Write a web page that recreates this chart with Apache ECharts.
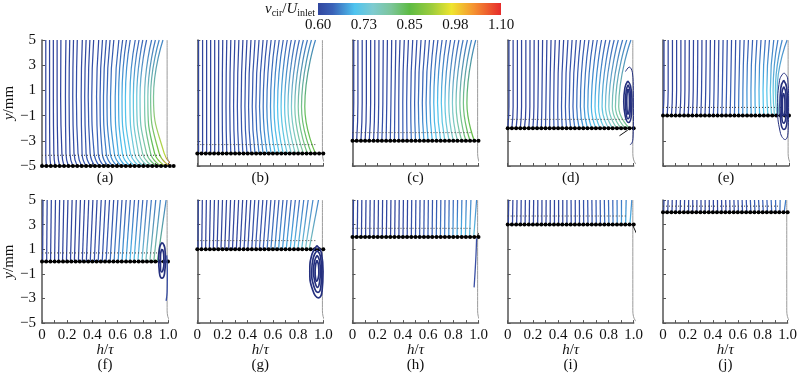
<!DOCTYPE html>
<html><head><meta charset="utf-8">
<script src="https://cdn.jsdelivr.net/npm/echarts@6/dist/echarts.min.js"></script>
<style>html,body{margin:0;padding:0;background:#fff}#c{width:800px;height:374px}</style>
</head><body><div id="c"></div>
<script>
// ================= DATA =================
const panelLabels = ['(a)','(b)','(c)','(d)','(e)','(f)','(g)','(h)','(i)','(j)'];
const dotLevels = [-5,-4,-3,-2,-1,0,1,2,3,4];
const faintLevels = [-4.15,-3.3,-2.35,-1.3,-0.35,0.7,1.7,2.7,3.7,4.5];
const xTickLabels = ['0','0.2','0.4','0.6','0.8','1.0'];
const yTickLabels = ['\u22125','\u22123','\u22121','1','3','5'];
const cbTickLabels = ['0.60','0.73','0.85','0.98','1.10'];
const cbRange = [0.6, 1.1];

const dotX = [0,0.033,0.067,0.1,0.133,0.167,0.2,0.233,0.267,0.3,0.333,0.367,0.4,0.433,0.467,0.5,0.533,0.567,0.6,0.633,0.667,0.7,0.733,0.767,0.8,0.833,0.867,0.9,0.933,0.967,1.0];
const dotXa = [0,0.035,0.07,0.105,0.14,0.175,0.21,0.245,0.28,0.315,0.35,0.385,0.42,0.455,0.49,0.525,0.56,0.595,0.63,0.665,0.7,0.735,0.77,0.805,0.84,0.875,0.91,0.945,0.98,1.015,1.045];

// velocity at top of each streamline (y = 5)
const vTop = [0.6,0.6,0.6,0.6,0.6,0.6,0.6,0.6,0.6,0.6,0.6,0.6,0.6,0.6,0.61,0.61,0.61,0.61,0.62,0.62,0.62,0.63,0.63,0.63,0.64,0.64,0.65,0.65,0.66,0.66];

// (a) stations y = 5, 0.5, -4, -5
const a_y = [5, 0.5, -4, -5];
const a_x5 = [0.03,0.06,0.09,0.12,0.15,0.19,0.22,0.25,0.28,0.32,0.35,0.38,0.41,0.45,0.48,0.51,0.54,0.57,0.61,0.64,0.67,0.70,0.74,0.77,0.80,0.83,0.87,0.90,0.93,0.96];
const a_xm = [0.03,0.06,0.09,0.12,0.148,0.186,0.215,0.244,0.273,0.311,0.339,0.367,0.395,0.433,0.461,0.488,0.516,0.544,0.581,0.608,0.635,0.662,0.698,0.725,0.752,0.778,0.814,0.84,0.862,0.885];
const a_xl = [0.03,0.062,0.094,0.126,0.158,0.19,0.222,0.254,0.286,0.318,0.35,0.382,0.414,0.446,0.478,0.51,0.542,0.574,0.606,0.638,0.67,0.702,0.734,0.766,0.798,0.83,0.862,0.894,0.93,0.97];
const a_xb = dotXa.slice(1);
const a_vm = [0.6,0.6,0.6,0.6,0.6,0.61,0.61,0.61,0.62,0.62,0.62,0.63,0.63,0.64,0.64,0.65,0.65,0.66,0.67,0.68,0.69,0.70,0.71,0.72,0.73,0.74,0.76,0.77,0.79,0.80];
const a_vl = [0.6,0.6,0.6,0.6,0.6,0.61,0.61,0.61,0.62,0.62,0.63,0.63,0.64,0.64,0.65,0.66,0.67,0.68,0.69,0.70,0.71,0.72,0.74,0.76,0.78,0.80,0.82,0.85,0.88,0.93];
const a_vb = [0.6,0.6,0.6,0.6,0.61,0.61,0.61,0.62,0.62,0.62,0.63,0.63,0.64,0.64,0.65,0.65,0.66,0.67,0.68,0.69,0.70,0.72,0.74,0.76,0.79,0.83,0.88,0.94,1.02,1.10];

// (b) stations y = 5, -0.3, -4
const b_y = [5, -0.3, -4];
const b_x5 = [0.01,0.042,0.074,0.106,0.138,0.17,0.202,0.234,0.266,0.298,0.33,0.362,0.394,0.426,0.458,0.49,0.522,0.554,0.586,0.618,0.65,0.682,0.714,0.746,0.778,0.81,0.842,0.874,0.906,0.938];
const b_xm = [0.01,0.042,0.074,0.106,0.138,0.168,0.198,0.228,0.258,0.288,0.318,0.348,0.378,0.407,0.436,0.465,0.494,0.523,0.552,0.581,0.609,0.637,0.665,0.693,0.72,0.747,0.774,0.801,0.827,0.853];
const b_xb = b_x5;
const b_vm = [0.6,0.6,0.6,0.6,0.6,0.6,0.61,0.61,0.61,0.62,0.62,0.62,0.63,0.63,0.64,0.64,0.65,0.65,0.66,0.67,0.69,0.70,0.71,0.72,0.74,0.75,0.77,0.79,0.81,0.83];
const b_vb = [0.6,0.6,0.6,0.6,0.61,0.61,0.61,0.62,0.62,0.62,0.63,0.63,0.64,0.64,0.65,0.66,0.67,0.68,0.69,0.70,0.71,0.72,0.73,0.75,0.76,0.78,0.80,0.82,0.84,0.86];

// (c) stations y = 5, 0, -3
const c_y = [5, 0, -3];
const c_x5 = [0.01,0.043,0.077,0.11,0.144,0.177,0.21,0.244,0.277,0.311,0.344,0.377,0.411,0.444,0.478,0.511,0.544,0.578,0.611,0.645,0.678,0.711,0.745,0.778,0.812,0.845,0.878,0.912,0.945,0.978];
const c_xm = [0.01,0.043,0.077,0.11,0.144,0.176,0.208,0.241,0.272,0.305,0.336,0.367,0.399,0.43,0.462,0.493,0.523,0.554,0.584,0.615,0.645,0.675,0.705,0.734,0.764,0.793,0.822,0.852,0.88,0.908];
const c_xb = dotX.slice(0, 30);
const c_vm = b_vm;
const c_vb = b_vb;

// (d) stations y = 5, -0.3, -2
const d_y = [5, -0.3, -2];
const d_x5 = c_x5;
const d_xm = [0.01,0.043,0.077,0.11,0.144,0.176,0.208,0.24,0.271,0.303,0.334,0.365,0.397,0.427,0.458,0.488,0.518,0.548,0.577,0.607,0.636,0.664,0.693,0.721,0.749,0.776,0.803,0.83,0.855,0.881];
const d_xb = dotX.slice(0, 30);
const d_vm = [0.6,0.6,0.6,0.6,0.6,0.6,0.6,0.61,0.61,0.61,0.62,0.62,0.62,0.63,0.63,0.64,0.64,0.65,0.66,0.67,0.68,0.69,0.70,0.71,0.72,0.74,0.75,0.77,0.78,0.79];
const d_vb = [0.6,0.6,0.6,0.6,0.6,0.61,0.61,0.61,0.62,0.62,0.62,0.63,0.63,0.64,0.64,0.65,0.66,0.67,0.68,0.69,0.70,0.71,0.72,0.73,0.75,0.76,0.78,0.79,0.80,0.81];

// (e) stations y = 5, 1, -1
const e_y = [5, 1, -1];
const e_x5 = [0.008,0.041,0.075,0.108,0.142,0.175,0.209,0.242,0.276,0.309,0.343,0.376,0.41,0.443,0.477,0.51,0.544,0.577,0.611,0.644,0.678,0.711,0.745,0.778,0.812,0.845,0.879,0.912,0.946,0.985];
const e_xm = [0.008,0.041,0.075,0.108,0.142,0.174,0.207,0.24,0.273,0.306,0.339,0.372,0.405,0.438,0.471,0.504,0.537,0.57,0.602,0.634,0.666,0.698,0.73,0.762,0.794,0.824,0.852,0.874,0.892,0.906];
const e_xb = [0,0.033,0.067,0.1,0.133,0.167,0.2,0.233,0.267,0.3,0.333,0.367,0.4,0.433,0.467,0.5,0.533,0.567,0.6,0.633,0.667,0.7,0.733,0.767,0.8,0.833,0.862,0.885,0.905,0.922];
const e_vm = [0.6,0.6,0.6,0.6,0.6,0.6,0.6,0.6,0.61,0.61,0.61,0.62,0.62,0.62,0.63,0.63,0.64,0.64,0.65,0.66,0.67,0.67,0.68,0.69,0.70,0.71,0.72,0.72,0.73,0.73];
const e_vb = [0.6,0.6,0.6,0.6,0.6,0.6,0.6,0.6,0.61,0.61,0.61,0.62,0.62,0.63,0.63,0.64,0.64,0.65,0.66,0.67,0.68,0.68,0.69,0.70,0.71,0.72,0.73,0.74,0.75,0.76];

// bottom row: stations y = 5 and dot level
const r2_x5 = [0.008,0.041,0.074,0.107,0.14,0.173,0.206,0.239,0.272,0.305,0.338,0.371,0.404,0.437,0.47,0.503,0.536,0.569,0.602,0.635,0.668,0.701,0.734,0.767,0.8,0.834,0.868,0.903,0.94,0.985];
const f_xb = [0.005,0.037,0.068,0.1,0.131,0.163,0.194,0.226,0.257,0.289,0.32,0.352,0.383,0.415,0.446,0.478,0.509,0.541,0.572,0.604,0.635,0.667,0.698,0.73,0.761,0.793,0.824,0.856,0.887,0.915];
const g_x5 = [0.008,0.04,0.072,0.104,0.136,0.168,0.2,0.232,0.264,0.296,0.328,0.36,0.392,0.424,0.456,0.488,0.52,0.552,0.584,0.616,0.648,0.68,0.712,0.745,0.778,0.811,0.845,0.88,0.918,0.962];
const g_xb = [0.005,0.035,0.066,0.096,0.127,0.157,0.188,0.218,0.249,0.279,0.31,0.34,0.371,0.401,0.432,0.462,0.493,0.523,0.554,0.584,0.615,0.645,0.676,0.706,0.737,0.767,0.798,0.828,0.858,0.888];
const h_xb = [0.005,0.038,0.071,0.104,0.137,0.17,0.203,0.236,0.269,0.302,0.335,0.368,0.401,0.434,0.467,0.5,0.533,0.566,0.599,0.632,0.665,0.698,0.731,0.764,0.797,0.83,0.863,0.896,0.929,0.962];
const i_xb = [0.005,0.038,0.071,0.105,0.138,0.171,0.204,0.238,0.271,0.304,0.337,0.371,0.404,0.437,0.47,0.504,0.537,0.57,0.603,0.637,0.67,0.703,0.736,0.77,0.803,0.836,0.869,0.903,0.936,0.97];
const j_xb = [0.005,0.038,0.072,0.105,0.138,0.172,0.205,0.238,0.272,0.305,0.338,0.372,0.405,0.438,0.472,0.505,0.538,0.572,0.605,0.638,0.672,0.705,0.738,0.772,0.805,0.838,0.872,0.905,0.938,0.972];
const f_vb = [0.6,0.6,0.6,0.6,0.6,0.6,0.6,0.6,0.6,0.6,0.61,0.61,0.62,0.62,0.63,0.63,0.64,0.65,0.66,0.67,0.68,0.69,0.70,0.71,0.72,0.74,0.76,0.78,0.80,0.82];
const g_vb = [0.6,0.6,0.6,0.6,0.6,0.6,0.6,0.6,0.6,0.6,0.6,0.61,0.61,0.62,0.62,0.63,0.63,0.64,0.65,0.66,0.67,0.68,0.68,0.69,0.70,0.71,0.72,0.73,0.75,0.77];
const h_vb = [0.6,0.6,0.6,0.6,0.6,0.6,0.6,0.6,0.6,0.6,0.6,0.6,0.61,0.61,0.62,0.62,0.63,0.63,0.64,0.64,0.65,0.66,0.66,0.67,0.68,0.69,0.70,0.71,0.72,0.72];
const i_vb = [0.6,0.6,0.6,0.6,0.6,0.6,0.6,0.6,0.6,0.6,0.6,0.6,0.6,0.6,0.61,0.61,0.61,0.62,0.62,0.63,0.63,0.64,0.64,0.65,0.66,0.66,0.67,0.68,0.69,0.70];
const j_vb = [0.6,0.6,0.6,0.6,0.6,0.6,0.6,0.6,0.6,0.6,0.6,0.6,0.6,0.6,0.6,0.6,0.61,0.61,0.61,0.61,0.62,0.62,0.62,0.62,0.63,0.63,0.63,0.64,0.64,0.65];

// wall contour (right boundary with trailing fillet)
const wallLine = [[0.993,5],[0.993,-4.0],[0.998,-4.45],[1.012,-4.78],[1.032,-4.95],[1.055,-5]];

// recirculation loops and extra streamlines
const vortexD = [
  [[0.953,1.75],[0.975,1.35],[0.986,0.3],[0.982,-0.9],[0.958,-1.55],[0.932,-1.0],[0.921,0.1],[0.93,1.2],[0.953,1.75]],
  [[0.955,1.45],[0.972,0.9],[0.976,0.0],[0.97,-0.9],[0.955,-1.25],[0.94,-0.8],[0.935,0.1],[0.94,0.95],[0.955,1.45]],
  [[0.955,1.1],[0.965,0.6],[0.966,-0.2],[0.962,-0.7],[0.955,-0.9],[0.947,-0.5],[0.945,0.2],[0.948,0.8],[0.955,1.1]]
];
const outerD = [[0.935,2.5],[0.965,2.85],[0.99,2.4],[0.997,1.0],[0.998,-1.0],[0.995,-2.7],[0.985,-3.2],[0.97,-3.3]];
const tickD = [[0.887,-2.6],[0.953,-2.15]];
const vortexE = [
  [[0.96,2.4],[0.99,1.9],[0.997,0],[0.993,-2.2],[0.97,-2.9],[0.93,-2.3],[0.91,-0.3],[0.925,1.8],[0.96,2.4]],
  [[0.958,1.8],[0.982,1.2],[0.99,-0.3],[0.983,-1.6],[0.96,-2.1],[0.935,-1.5],[0.928,-0.2],[0.935,1.2],[0.958,1.8]],
  [[0.958,1.3],[0.975,0.8],[0.979,-0.3],[0.974,-1.2],[0.958,-1.6],[0.943,-1.1],[0.94,-0.2],[0.944,0.8],[0.958,1.3]],
  [[0.957,0.8],[0.967,0.3],[0.968,-0.5],[0.957,-1.0],[0.948,-0.5],[0.948,0.3],[0.957,0.8]]
];
const vortexF = [
  [[0.955,1.55],[0.975,1.1],[0.98,0.1],[0.972,-1.0],[0.952,-1.35],[0.932,-0.9],[0.926,0.2],[0.935,1.2],[0.955,1.55]],
  [[0.955,1.0],[0.966,0.6],[0.968,-0.2],[0.96,-0.7],[0.95,-0.85],[0.94,-0.4],[0.94,0.4],[0.945,0.85],[0.955,1.0]]
];
const lineF = [[0.99,0.5],[0.995,-1.0],[0.993,-2.5],[0.985,-3.2]];
const vortexG = [
  [[0.95,1.3],[0.985,0.7],[0.998,-0.8],[0.99,-2.4],[0.96,-2.95],[0.915,-2.3],[0.893,-0.8],[0.91,0.6],[0.95,1.3]],
  [[0.95,0.9],[0.978,0.4],[0.988,-0.8],[0.98,-2.1],[0.958,-2.5],[0.925,-2.0],[0.908,-0.8],[0.92,0.3],[0.95,0.9]],
  [[0.95,0.5],[0.97,0.1],[0.977,-0.8],[0.97,-1.7],[0.955,-2.1],[0.935,-1.7],[0.922,-0.8],[0.93,0.0],[0.95,0.5]],
  [[0.95,0.1],[0.962,-0.3],[0.965,-0.9],[0.958,-1.4],[0.948,-1.6],[0.938,-1.3],[0.935,-0.8],[0.94,-0.2],[0.95,0.1]]
];
const lineH = [[0.985,1.9],[0.98,0.5],[0.972,-1.0],[0.965,-2.1]];
const tickH = [[0.987,2.05],[1.027,2.65]];
const tickI = [[0.99,3.0],[1.03,2.1]];

// colour map of the colour bar (fraction, colour)
const cmapStops = [[0,'#31469e'],[0.08,'#3a62b8'],[0.2,'#4ec3ef'],[0.3,'#7ecbd0'],[0.4,'#7cc59a'],[0.5,'#5dbb44'],[0.62,'#9ccc3c'],[0.73,'#efe52e'],[0.85,'#f59331'],[1,'#e62b2b']];

// ================= BUILD =================
const panels = [
  {y:a_y, x:[a_x5,a_xm,a_xl,a_xb], v:[vTop,a_vm,a_vl,a_vb], dots:dotXa},
  {y:b_y, x:[b_x5,b_xm,b_xb], v:[vTop,b_vm,b_vb], dots:dotX},
  {y:c_y, x:[c_x5,c_xm,c_xb], v:[vTop,c_vm,c_vb], dots:dotX},
  {y:d_y, x:[d_x5,d_xm,d_xb], v:[vTop,d_vm,d_vb], dots:dotX},
  {y:e_y, x:[e_x5,e_xm,e_xb], v:[vTop,e_vm,e_vb], dots:dotX},
  {y:[5,0], x:[r2_x5,f_xb], v:[vTop,f_vb], dots:dotX},
  {y:[5,1], x:[g_x5,g_xb], v:[vTop,g_vb], dots:dotX},
  {y:[5,2], x:[r2_x5,h_xb], v:[vTop,h_vb], dots:dotX},
  {y:[5,3], x:[r2_x5,i_xb], v:[vTop,i_vb], dots:dotX},
  {y:[5,4], x:[r2_x5,j_xb], v:[vTop,j_vb], dots:dotX}
];

const serif = "Liberation Serif, Times New Roman, serif";
const colLeft = [42, 197.3, 352.5, 507.7, 663];
const rowTop = [40, 200];
const PW = 126, PH = 126;
const FS = 15;

function hex(h){return [parseInt(h.substr(1,2),16),parseInt(h.substr(3,2),16),parseInt(h.substr(5,2),16)];}
function cmap(v){
  let t = (v - cbRange[0])/(cbRange[1]-cbRange[0]);
  t = Math.max(0, Math.min(1, t));
  for (let k=1;k<cmapStops.length;k++){
    if (t <= cmapStops[k][0]){
      const a = cmapStops[k-1], b = cmapStops[k];
      const f = (t - a[0])/(b[0]-a[0]);
      const ca = hex(a[1]), cb = hex(b[1]);
      return 'rgb(' + ca.map((c,j)=>Math.round(c+(cb[j]-c)*f)).join(',') + ')';
    }
  }
  return cmapStops[cmapStops.length-1][1];
}

const grids = [], xAxes = [], yAxes = [], series = [];
const richIt = {i:{fontStyle:'italic', fontFamily:serif, fontSize:FS, color:'#111', lineHeight:15}};

panelLabels.forEach((lab, pi) => {
  const row = pi < 5 ? 0 : 1, col = pi % 5;
  grids.push({left: colLeft[col], top: rowTop[row], width: PW, height: PH});
  xAxes.push({
    gridIndex: pi, type:'value', min:0, max:1, interval:0.1,
    axisLine:{show:true, onZero:false, lineStyle:{color:'#555', width:1.5}},
    axisTick:{show:true, inside:true, length:3, lineStyle:{color:'#555', width:1}},
    splitLine:{show:false},
    axisLabel:{show: row===1, margin:4, fontFamily:serif, fontSize:FS, color:'#111',
      formatter: v => { const k = Math.round(v*10); return k%2===0 ? xTickLabels[k/2] : ''; }},
    name: row===0 ? lab : '{i|h}/{i|\u03c4}\n' + lab,
    nameLocation:'middle', nameGap: row===0 ? 5 : 18,
    nameTextStyle:{fontFamily:serif, fontSize:FS, color:'#111', lineHeight:15, rich: richIt}
  });
  yAxes.push({
    gridIndex: pi, type:'value', min:-5, max:5, interval:2,
    axisLine:{show:true, onZero:false, lineStyle:{color:'#555', width:1.5}},
    axisTick:{show:true, inside:true, length:3, lineStyle:{color:'#555', width:1}},
    splitLine:{show:false},
    axisLabel:{show: col===0, margin:6, fontFamily:serif, fontSize:FS, color:'#111',
      formatter: v => yTickLabels[Math.round((v+5)/2)]},
    name: col===0 ? '{i|y}/mm' : '', nameLocation:'middle', nameRotate:90, nameGap:22,
    nameTextStyle:{fontFamily:serif, fontSize:FS, color:'#111', rich: richIt}
  });

  const P = panels[pi];
  const level = dotLevels[pi];
  const n = P.x[0].length;
  const span = P.y[0] - P.y[P.y.length-1];
  // streamlines
  for (let i=0;i<n;i++){
    const data = P.y.map((yy,k)=>[P.x[k][i], yy]);
    const cs = P.y.map((yy,k)=>({offset:(P.y[0]-yy)/span, color:cmap(P.v[k][i])}));
    series.push({type:'line', xAxisIndex:pi, yAxisIndex:pi, data, smooth:0.5, symbol:'none',
      silent:true, animation:false, z:2,
      lineStyle:{width:1.25, color:new echarts.graphic.LinearGradient(0,0,0,1,cs)}});
  }
  // faint dotted line just above the dot row
  series.push({type:'line', xAxisIndex:pi, yAxisIndex:pi, data:[[0,faintLevels[pi]],[0.94,faintLevels[pi]]],
    symbol:'none', silent:true, animation:false, z:3,
    lineStyle:{color:'#444', width:1, type:[1,2]}});
  // black dot row
  series.push({type:'line', xAxisIndex:pi, yAxisIndex:pi, data:P.dots.map(x=>[x, level]),
    symbol:'circle', symbolSize:4, showSymbol:true, silent:true, animation:false, clip:false, z:5,
    itemStyle:{color:'#000'}, lineStyle:{color:'#000', width:1.2}});
  // wall
  series.push({type:'line', xAxisIndex:pi, yAxisIndex:pi, data:wallLine, smooth:0.3, symbol:'none',
    silent:true, animation:false, clip:false, z:3, lineStyle:{color:'#9a9a9a', width:1}});
});

function addLine(pi, data, color, width, smooth){
  series.push({type:'line', xAxisIndex:pi, yAxisIndex:pi, data, smooth: smooth, symbol:'none',
    silent:true, animation:false, clip:false, z:6, lineStyle:{color, width}});
}
const navy = '#25307f';
vortexD.forEach(l => addLine(3, l, navy, 1.6, 0.5));
addLine(3, outerD, navy, 1, 0.4);
addLine(3, tickD, '#111', 1, false);
vortexE.forEach((l,k) => addLine(4, l, navy, k===0 ? 1 : 1.6, 0.5));
vortexF.forEach(l => addLine(5, l, navy, 1.7, 0.5));
addLine(5, lineF, '#3a4fa5', 1.3, 0.4);
vortexG.forEach(l => addLine(6, l, navy, 1.7, 0.5));
addLine(7, lineH, '#3a4fa5', 1.3, 0.4);
addLine(7, tickH, '#111', 1, false);
addLine(8, tickI, '#111', 1, false);

// colour bar grid
const cbi = 10;
grids.push({left:318, top:3, width:183, height:12});
xAxes.push({gridIndex:cbi, type:'value', min:cbRange[0], max:cbRange[1], interval:0.125,
  axisLine:{show:false}, axisTick:{show:false}, splitLine:{show:false},
  axisLabel:{show:true, margin:3, fontFamily:serif, fontSize:FS, color:'#111',
    formatter:(v) => cbTickLabels[Math.round((v-cbRange[0])/0.125)]}});
yAxes.push({gridIndex:cbi, type:'value', min:0, max:1, show:false});
series.push({type:'custom', xAxisIndex:cbi, yAxisIndex:cbi, data:[[cbRange[0], cbRange[1]]], silent:true, animation:false,
  renderItem:(params, api) => {
    const p0 = api.coord([api.value(0), 1]);
    const p1 = api.coord([api.value(1), 0]);
    return {type:'rect', shape:{x:p0[0], y:p0[1], width:p1[0]-p0[0], height:p1[1]-p0[1]},
      style:{fill:new echarts.graphic.LinearGradient(0,0,1,0, cmapStops.map(s=>({offset:s[0], color:s[1]})))}};
  }});

const chart = echarts.init(document.getElementById('c'), null, {renderer:'canvas'});
chart.setOption({
  animation:false,
  grid: grids, xAxis: xAxes, yAxis: yAxes, series,
  graphic:[{type:'text', x:315, y:9, style:{
    text:'{v|v}{s|cir}{n|/}{v|U}{s|inlet}', align:'right', verticalAlign:'middle',
    rich:{
      v:{fontFamily:serif, fontStyle:'italic', fontSize:FS, fill:'#111', lineHeight:18, verticalAlign:'middle'},
      n:{fontFamily:serif, fontSize:FS, fill:'#111', lineHeight:18, verticalAlign:'middle'},
      s:{fontFamily:serif, fontSize:10, fill:'#111', lineHeight:18, verticalAlign:'bottom'}
    }}}]
});
</script>
</body></html>
